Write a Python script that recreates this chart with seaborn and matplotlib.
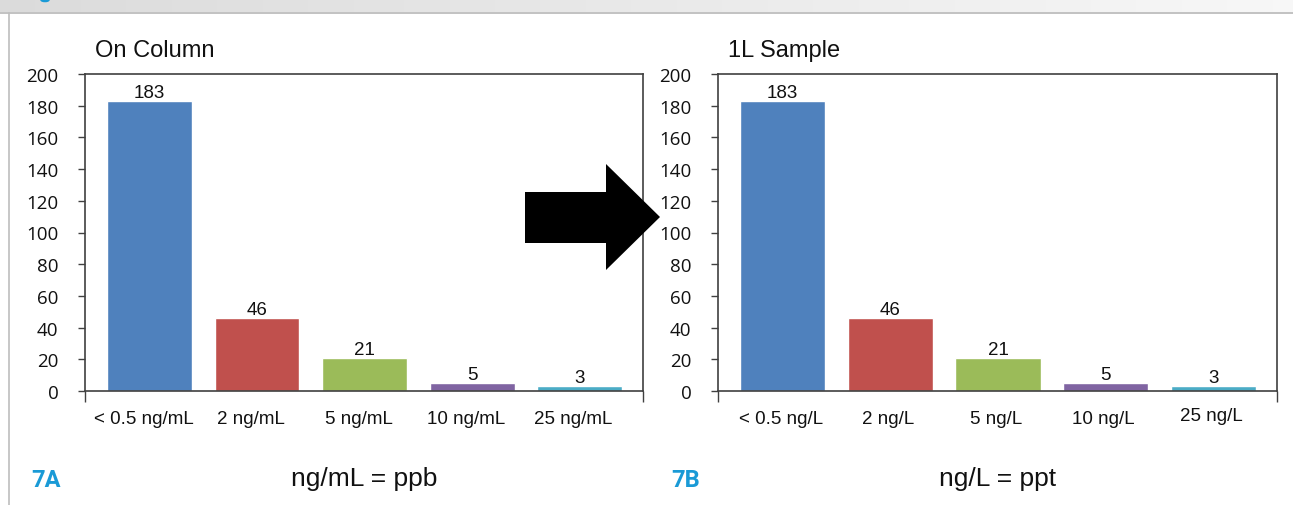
import matplotlib
matplotlib.use("Agg")
import matplotlib.pyplot as plt
import matplotlib.transforms as mtrans
from matplotlib.patches import Polygon, Circle
import seaborn as sns
import pandas as pd
import numpy as np

# ---- data ----
cats_a = ["< 0.5 ng/mL", "2 ng/mL", "5 ng/mL", "10 ng/mL", "25 ng/mL"]
cats_b = ["< 0.5 ng/L", "2 ng/L", "5 ng/L", "10 ng/L", "25 ng/L"]
counts_a = [183, 46, 21, 5, 3]
counts_b = [183, 46, 21, 5, 3]
yticks = [0, 20, 40, 60, 80, 100, 120, 140, 160, 180, 200]
title_a = "On Column"
title_b = "1L Sample"
note_a = "ng/mL = ppb"
note_b = "ng/L = ppt"
panel_a = "7A"
panel_b = "7B"

colors = ["#4F81BD", "#C0504D", "#9BBB59", "#8064A2", "#4BACC6"]

sns.set_theme(style="white")
plt.rcParams['font.family'] = ['Liberation Sans', 'DejaVu Sans']

W, H = 1293, 506
fig = plt.figure(figsize=(W / 100, H / 100), dpi=100)

def fx(x):
    return x / W

def fy(y):
    return 1 - y / H

# header band with gradient
grad = np.linspace(0.86, 0.97, 256).reshape(1, -1)
hdr = fig.add_axes([0, fy(13), 1, 13 / H])
hdr.imshow(np.dstack([grad, grad, grad]), aspect="auto", extent=[0, 1, 0, 1])
hdr.set_axis_off()
fig.add_artist(Circle((fx(45), fy(1)), 4 / W, transform=fig.transFigure,
                      color="#1A9AD6", zorder=5, clip_on=False))
fig.add_artist(plt.Line2D([0, 1], [fy(13.5), fy(13.5)], color="#B8B8B8", lw=1.2,
                          transform=fig.transFigure))
fig.add_artist(plt.Line2D([fx(8.5), fx(8.5)], [fy(13.5), 0], color="#BDBDBD", lw=1.2,
                          transform=fig.transFigure))

XL = (-0.6, 4.59)


def panel(left, right, cats, vals, title, label_shift):
    ax = fig.add_axes([fx(left), fy(392), fx(right - left), (392 - 75) / H])
    df = pd.DataFrame({"cat": cats, "val": vals})
    sns.barplot(data=df, x="cat", y="val", hue="cat", palette=colors,
                legend=False, width=0.79, ax=ax, saturation=1)
    ax.set_ylim(0, 200)
    ax.set_xlim(*XL)
    ax.set_yticks(yticks)
    ax.set_yticklabels([str(t) for t in yticks], fontsize=13.5, family=['Open Sans'])
    ax.set_xlabel("")
    ax.set_ylabel("")
    for s in ax.spines.values():
        s.set_visible(True)
        s.set_color("#404040")
        s.set_linewidth(1.2)
    ax.tick_params(axis="y", which="both", left=True, length=5, width=1, color="#404040",
                   pad=14, labelcolor="#111111")
    ax.set_xticks(list(XL), minor=True)
    ax.tick_params(axis="x", which="minor", bottom=True, length=8, width=1, color="#404040")
    ax.tick_params(axis="x", which="major", bottom=False, pad=8, labelsize=13.5,
                   labelcolor="#111111")
    off = mtrans.ScaledTranslation(label_shift / 100, 0, fig.dpi_scale_trans)
    for lb in ax.get_xticklabels():
        lb.set_transform(lb.get_transform() + off)
    for c in ax.containers:
        ax.bar_label(c, labels=[f"{int(v)}" for v in c.datavalues], padding=0,
                     fontsize=13.5, color="#111111")
    ax.set_title(title, loc="left", x=0.018, y=1.03, fontsize=17, color="#111111")
    return ax

ax1 = panel(85, 643, cats_a, counts_a, title_a, -6)
ax2 = panel(718, 1277, cats_b, counts_b, title_b, -2)
# the "25 ng/L" label sits slightly higher in the reference
lbl = ax2.get_xticklabels()[-1]
lbl.set_transform(lbl.get_transform() + mtrans.ScaledTranslation(0, 3 / 100, fig.dpi_scale_trans))

# black block arrow
pts = [(525, 193), (606, 193), (606, 165), (660, 218), (606, 271), (606, 244), (525, 244)]
fig.add_artist(Polygon([(fx(x), fy(y)) for x, y in pts], closed=True,
                       transform=fig.transFigure, facecolor="black", edgecolor="none",
                       zorder=10))

# bottom labels
fig.text(fx(31), fy(481), panel_a, color="#1A9AD6", fontsize=17, fontweight="bold",
         va="center", ha="left", family=["Roboto"])
fig.text(fx(671), fy(481), panel_b, color="#1A9AD6", fontsize=17, fontweight="bold",
         va="center", ha="left", family=["Roboto"])
fig.text(fx(364), fy(479), note_a, fontsize=19, va="center", ha="center", color="#111111")
fig.text(fx(998), fy(479), note_b, fontsize=19, va="center", ha="center", color="#111111")

fig.savefig("out.png", dpi=100)
